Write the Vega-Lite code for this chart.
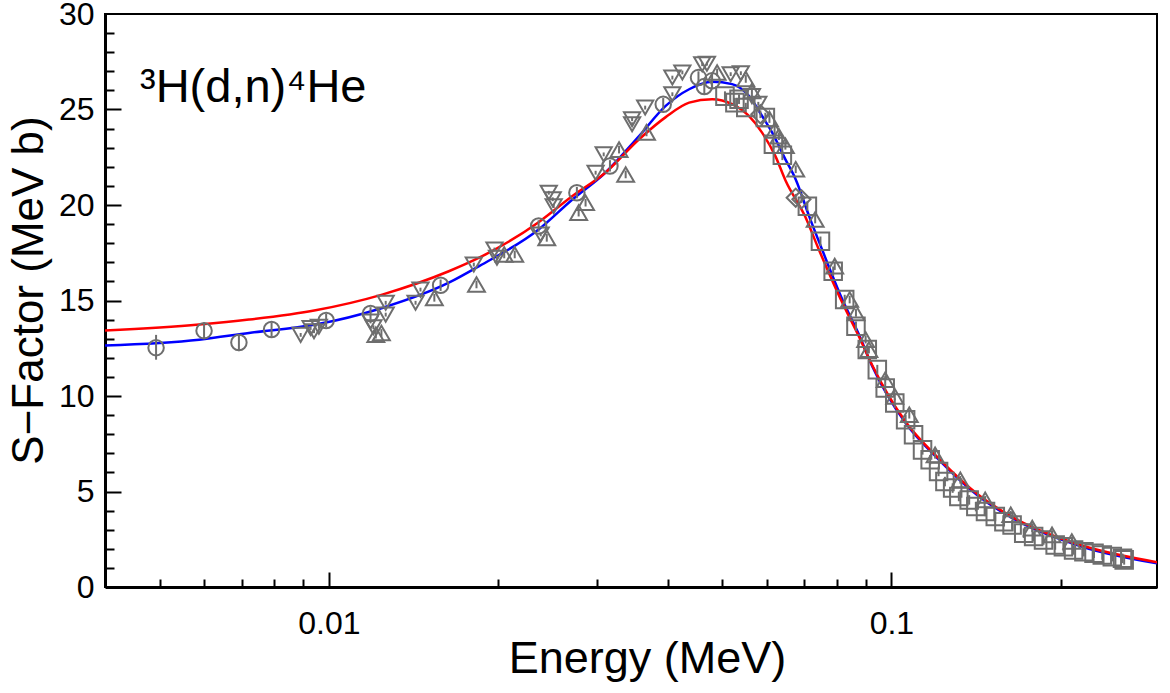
{
"$schema": "https://vega.github.io/schema/vega-lite/v6.json",
"width": 1052, "height": 573,
"autosize": {"type": "none"},
"padding": {"left": 105, "top": 14, "right": 13, "bottom": 106},
"background": "white",
"title": {"text": "³H(d,n)⁴He", "anchor": "start", "frame": "group", "orient": "top", "offset": -58, "dx": 35, "dy": 93, "baseline": "alphabetic", "fontSize": 47, "font": "Liberation Sans", "fontWeight": "normal", "color": "black"},
"datasets": {
"blue": [{"E":0.00398,"S":12.64},{"E":0.00588,"S":12.95},{"E":0.00721,"S":13.3},{"E":0.00947,"S":13.74},{"E":0.01244,"S":14.61},{"E":0.01634,"S":15.93},{"E":0.0185,"S":16.8},{"E":0.0236,"S":18.72},{"E":0.0271,"S":20.29},{"E":0.031,"S":21.69},{"E":0.0356,"S":23.61},{"E":0.0397,"S":25.19},{"E":0.0437,"S":26.06},{"E":0.048,"S":26.45},{"E":0.0521,"S":26.33},{"E":0.0558,"S":25.71},{"E":0.0589,"S":24.66},{"E":0.0614,"S":23.79},{"E":0.0648,"S":22.39},{"E":0.0676,"S":21.34},{"E":0.0714,"S":19.42},{"E":0.0753,"S":17.67},{"E":0.0818,"S":15.05},{"E":0.0876,"S":13.2},{"E":0.0925,"S":11.55},{"E":0.106,"S":8.58},{"E":0.1215,"S":6.66},{"E":0.1431,"S":4.74},{"E":0.1663,"S":3.51},{"E":0.2184,"S":2.11},{"E":0.2966,"S":1.24}],
"red": [{"E":0.00398,"S":13.42},{"E":0.00588,"S":13.74},{"E":0.00721,"S":14.0},{"E":0.00947,"S":14.49},{"E":0.01244,"S":15.31},{"E":0.01634,"S":16.53},{"E":0.0185,"S":17.24},{"E":0.0236,"S":19.1},{"E":0.0271,"S":20.47},{"E":0.031,"S":21.69},{"E":0.0356,"S":23.44},{"E":0.0397,"S":24.6},{"E":0.0437,"S":25.36},{"E":0.048,"S":25.54},{"E":0.0521,"S":25.28},{"E":0.0558,"S":24.66},{"E":0.0589,"S":23.79},{"E":0.0622,"S":22.56},{"E":0.0648,"S":21.3},{"E":0.0702,"S":19.42},{"E":0.0743,"S":17.67},{"E":0.0813,"S":15.05},{"E":0.0876,"S":13.1},{"E":0.0925,"S":11.6},{"E":0.106,"S":8.65},{"E":0.1215,"S":6.72},{"E":0.1431,"S":4.8},{"E":0.1663,"S":3.57},{"E":0.2184,"S":2.17},{"E":0.2966,"S":1.3}],
"pts": [
{"set":"c","E":0.00493,"S":12.53,"lo":11.9,"hi":13.2},
{"set":"c","E":0.006,"S":13.42,"lo":13.0,"hi":13.85},
{"set":"c","E":0.00692,"S":12.8,"lo":12.35,"hi":13.25},
{"set":"c","E":0.00791,"S":13.48,"lo":13.1,"hi":13.85},
{"set":"c","E":0.00989,"S":13.95,"lo":13.6,"hi":14.3},
{"set":"c","E":0.01186,"S":14.32,"lo":14.0,"hi":14.65},
{"set":"c","E":0.0158,"S":15.8,"lo":15.5,"hi":16.1},
{"set":"c","E":0.0236,"S":18.9,"lo":18.6,"hi":19.2},
{"set":"c","E":0.0276,"S":20.64,"lo":20.35,"hi":20.95},
{"set":"c","E":0.0316,"S":22.04,"lo":21.75,"hi":22.35},
{"set":"c","E":0.0393,"S":25.27,"lo":24.95,"hi":25.6},
{"set":"c","E":0.0454,"S":26.67,"lo":26.35,"hi":27.0},
{"set":"c","E":0.0465,"S":26.2,"lo":25.8,"hi":26.6},
{"set":"c","E":0.048,"S":26.5,"lo":26.1,"hi":26.9},
{"set":"d","E":0.00891,"S":13.2,"lo":13.1,"hi":13.3},
{"set":"d","E":0.00928,"S":13.56,"lo":13.46,"hi":13.66},
{"set":"d","E":0.00941,"S":13.39,"lo":13.29,"hi":13.49},
{"set":"d","E":0.0096,"S":13.62,"lo":13.52,"hi":13.72},
{"set":"d","E":0.01186,"S":13.9,"lo":13.8,"hi":14.0},
{"set":"d","E":0.012,"S":13.6,"lo":13.5,"hi":13.7},
{"set":"d","E":0.01262,"S":14.88,"lo":14.78,"hi":14.98},
{"set":"d","E":0.01262,"S":14.26,"lo":14.16,"hi":14.36},
{"set":"d","E":0.01426,"S":14.88,"lo":14.78,"hi":14.98},
{"set":"d","E":0.01455,"S":15.57,"lo":15.47,"hi":15.67},
{"set":"d","E":0.0181,"S":16.88,"lo":16.78,"hi":16.98},
{"set":"d","E":0.0197,"S":17.67,"lo":17.57,"hi":17.77},
{"set":"d","E":0.0199,"S":17.24,"lo":17.14,"hi":17.34},
{"set":"d","E":0.0238,"S":18.46,"lo":18.36,"hi":18.56},
{"set":"d","E":0.0246,"S":20.64,"lo":20.54,"hi":20.74},
{"set":"d","E":0.025,"S":20.3,"lo":20.2,"hi":20.4},
{"set":"d","E":0.0251,"S":19.94,"lo":19.84,"hi":20.04},
{"set":"d","E":0.0298,"S":21.69,"lo":21.59,"hi":21.79},
{"set":"d","E":0.0308,"S":22.65,"lo":22.55,"hi":22.75},
{"set":"d","E":0.0346,"S":24.49,"lo":24.39,"hi":24.59},
{"set":"d","E":0.0346,"S":24.23,"lo":24.13,"hi":24.33},
{"set":"d","E":0.0365,"S":25.1,"lo":25.0,"hi":25.2},
{"set":"d","E":0.0408,"S":25.8,"lo":25.7,"hi":25.9},
{"set":"d","E":0.0408,"S":26.67,"lo":26.57,"hi":26.77},
{"set":"d","E":0.0425,"S":26.94,"lo":26.84,"hi":27.04},
{"set":"d","E":0.0461,"S":27.37,"lo":27.27,"hi":27.47},
{"set":"d","E":0.047,"S":27.4,"lo":27.3,"hi":27.5},
{"set":"d","E":0.0518,"S":26.85,"lo":26.75,"hi":26.95},
{"set":"d","E":0.054,"S":26.9,"lo":26.8,"hi":27.0},
{"set":"d","E":0.0565,"S":25.7,"lo":25.6,"hi":25.8},
{"set":"d","E":0.058,"S":25.3,"lo":25.2,"hi":25.4},
{"set":"u","E":0.01212,"S":13.21,"lo":13.01,"hi":13.41},
{"set":"u","E":0.0124,"S":13.3,"lo":13.1,"hi":13.5},
{"set":"u","E":0.0154,"S":15.14,"lo":14.94,"hi":15.34},
{"set":"u","E":0.0183,"S":15.84,"lo":15.64,"hi":16.04},
{"set":"u","E":0.0205,"S":17.41,"lo":17.21,"hi":17.61},
{"set":"u","E":0.0214,"S":17.41,"lo":17.21,"hi":17.61},
{"set":"u","E":0.0244,"S":18.28,"lo":18.08,"hi":18.48},
{"set":"u","E":0.0278,"S":19.6,"lo":19.4,"hi":19.8},
{"set":"u","E":0.0286,"S":20.12,"lo":19.92,"hi":20.32},
{"set":"u","E":0.0328,"S":22.9,"lo":22.7,"hi":23.1},
{"set":"u","E":0.0337,"S":21.6,"lo":21.4,"hi":21.8},
{"set":"u","E":0.0367,"S":23.8,"lo":23.6,"hi":24.0},
{"set":"u","E":0.049,"S":26.94,"lo":26.74,"hi":27.14},
{"set":"u","E":0.0551,"S":26.6,"lo":26.4,"hi":26.8},
{"set":"u","E":0.0565,"S":25.97,"lo":25.77,"hi":26.17},
{"set":"u","E":0.0607,"S":24.5,"lo":24.3,"hi":24.7},
{"set":"u","E":0.062,"S":23.9,"lo":23.7,"hi":24.1},
{"set":"u","E":0.0631,"S":23.6,"lo":23.4,"hi":23.8},
{"set":"u","E":0.0648,"S":23.1,"lo":22.9,"hi":23.3},
{"set":"u","E":0.0676,"S":21.87,"lo":21.67,"hi":22.07},
{"set":"u","E":0.0732,"S":19.24,"lo":19.04,"hi":19.44},
{"set":"u","E":0.0793,"S":16.8,"lo":16.6,"hi":17.0},
{"set":"u","E":0.0843,"S":15.05,"lo":14.85,"hi":15.25},
{"set":"u","E":0.0865,"S":14.35,"lo":14.15,"hi":14.55},
{"set":"u","E":0.09,"S":12.95,"lo":12.75,"hi":13.15},
{"set":"u","E":0.0912,"S":12.43,"lo":12.23,"hi":12.63},
{"set":"u","E":0.0975,"S":10.85,"lo":10.65,"hi":11.05},
{"set":"u","E":0.1014,"S":9.98,"lo":9.78,"hi":10.18},
{"set":"u","E":0.1076,"S":9.02,"lo":8.82,"hi":9.22},
{"set":"u","E":0.1196,"S":6.92,"lo":6.72,"hi":7.12},
{"set":"u","E":0.1326,"S":5.61,"lo":5.41,"hi":5.81},
{"set":"u","E":0.1468,"S":4.56,"lo":4.36,"hi":4.76},
{"set":"u","E":0.163,"S":3.78,"lo":3.58,"hi":3.98},
{"set":"u","E":0.178,"S":3.08,"lo":2.88,"hi":3.28},
{"set":"u","E":0.193,"S":2.73,"lo":2.53,"hi":2.93},
{"set":"u","E":0.2093,"S":2.38,"lo":2.18,"hi":2.58},
{"set":"s","E":0.0506,"S":25.7,"lo":25.45,"hi":25.95},
{"set":"s","E":0.0527,"S":25.36,"lo":25.11,"hi":25.61},
{"set":"s","E":0.0536,"S":25.54,"lo":25.29,"hi":25.79},
{"set":"s","E":0.0551,"S":25.1,"lo":24.85,"hi":25.35},
{"set":"s","E":0.0597,"S":24.58,"lo":24.33,"hi":24.83},
{"set":"s","E":0.0617,"S":23.18,"lo":22.93,"hi":23.43},
{"set":"s","E":0.064,"S":22.6,"lo":22.35,"hi":22.85},
{"set":"s","E":0.0709,"S":19.94,"lo":19.69,"hi":20.19},
{"set":"s","E":0.0748,"S":18.1,"lo":17.85,"hi":18.35},
{"set":"s","E":0.0788,"S":16.53,"lo":16.28,"hi":16.78},
{"set":"s","E":0.0826,"S":15.05,"lo":14.8,"hi":15.3},
{"set":"s","E":0.0865,"S":13.65,"lo":13.4,"hi":13.9},
{"set":"s","E":0.0906,"S":12.43,"lo":12.18,"hi":12.68},
{"set":"s","E":0.0944,"S":11.38,"lo":11.13,"hi":11.63},
{"set":"s","E":0.0975,"S":10.42,"lo":10.17,"hi":10.67},
{"set":"s","E":0.1014,"S":9.63,"lo":9.38,"hi":9.88},
{"set":"s","E":0.106,"S":8.76,"lo":8.51,"hi":9.01},
{"set":"s","E":0.1095,"S":7.97,"lo":7.72,"hi":8.22},
{"set":"s","E":0.1136,"S":7.18,"lo":6.93,"hi":7.43},
{"set":"s","E":0.1172,"S":6.66,"lo":6.41,"hi":6.91},
{"set":"s","E":0.1213,"S":6.05,"lo":5.8,"hi":6.3},
{"set":"s","E":0.1245,"S":5.52,"lo":5.27,"hi":5.77},
{"set":"s","E":0.1285,"S":5.18,"lo":4.93,"hi":5.43},
{"set":"s","E":0.1318,"S":4.74,"lo":4.49,"hi":4.99},
{"set":"s","E":0.1375,"S":4.56,"lo":4.31,"hi":4.81},
{"set":"s","E":0.1413,"S":4.21,"lo":3.96,"hi":4.46},
{"set":"s","E":0.147,"S":3.95,"lo":3.7,"hi":4.2},
{"set":"s","E":0.153,"S":3.69,"lo":3.44,"hi":3.94},
{"set":"s","E":0.1585,"S":3.42,"lo":3.17,"hi":3.67},
{"set":"s","E":0.1639,"S":3.25,"lo":3.0,"hi":3.5},
{"set":"s","E":0.1719,"S":2.82,"lo":2.57,"hi":3.07},
{"set":"s","E":0.179,"S":2.64,"lo":2.39,"hi":2.89},
{"set":"s","E":0.1864,"S":2.46,"lo":2.21,"hi":2.71},
{"set":"s","E":0.1955,"S":2.2,"lo":1.95,"hi":2.45},
{"set":"s","E":0.2022,"S":2.11,"lo":1.86,"hi":2.36},
{"set":"s","E":0.2108,"S":1.94,"lo":1.69,"hi":2.19},
{"set":"s","E":0.2199,"S":1.85,"lo":1.6,"hi":2.1},
{"set":"s","E":0.2292,"S":1.77,"lo":1.52,"hi":2.02},
{"set":"s","E":0.2371,"S":1.68,"lo":1.43,"hi":1.93},
{"set":"s","E":0.247,"S":1.59,"lo":1.34,"hi":1.84},
{"set":"s","E":0.2575,"S":1.5,"lo":1.25,"hi":1.75},
{"set":"s","E":0.2593,"S":1.42,"lo":1.17,"hi":1.67},
{"set":"m","E":0.0585,"S":24.75,"lo":24.55,"hi":24.95},
{"set":"m","E":0.0676,"S":20.38,"lo":20.18,"hi":20.58},
{"set":"m","E":0.0692,"S":20.3,"lo":20.1,"hi":20.5}
]
},
"layer": [
{
"data": {"name": "blue"},
"mark": {"type": "line", "color": "#0000ff", "strokeWidth": 2.5, "interpolate": "monotone", "clip": true},
"encoding": {
"x": {"field": "E", "type": "quantitative", "scale": {"type": "log", "domain": [0.004, 0.2966], "nice": false},
"axis": {"orient": "bottom", "values": [0.01, 0.1], "format": "~g", "ticks": false, "labelPadding": 21, "title": "Energy (MeV)", "titlePadding": -3, "titleFontSize": 45, "titleX": 542}},
"y": {"field": "S", "type": "quantitative", "scale": {"domain": [0, 30], "nice": false, "zero": true},
"axis": {"orient": "left", "values": [0, 5, 10, 15, 20, 25, 30], "ticks": false, "labelPadding": 11, "title": "S−Factor (MeV b)", "titlePadding": 7, "titleFontSize": 44, "titleY": 276}}
}
},
{
"data": {"name": "red"},
"mark": {"type": "line", "color": "#ff0000", "strokeWidth": 2.5, "interpolate": "monotone", "clip": true},
"encoding": {
"x": {"field": "E", "type": "quantitative", "scale": {"type": "log", "domain": [0.004, 0.2966], "nice": false},
"axis": {"orient": "bottom", "values": [0.01, 0.1], "tickSize": -15, "labels": false, "domain": false, "title": null}},
"y": {"field": "S", "type": "quantitative", "scale": {"domain": [0, 30], "nice": false, "zero": true},
"axis": {"orient": "left", "values": [5, 10, 15, 20, 25], "tickSize": -16, "labels": false, "domain": false, "title": null}}
}
},
{
"data": {"name": "pts"},
"mark": {"type": "rule", "color": "#6e6e6e", "strokeWidth": 2},
"encoding": {
"x": {"field": "E", "type": "quantitative", "scale": {"type": "log", "domain": [0.004, 0.2966], "nice": false}, "axis": null},
"y": {"field": "lo", "type": "quantitative", "scale": {"domain": [0, 30], "nice": false, "zero": true}, "axis": null},
"y2": {"field": "hi"}
}
},
{
"data": {"name": "pts"},
"mark": {"type": "point", "filled": false, "strokeWidth": 2, "color": "#6e6e6e", "opacity": 1},
"encoding": {
"x": {"field": "E", "type": "quantitative", "scale": {"type": "log", "domain": [0.004, 0.2966], "nice": false},
"axis": {"orient": "bottom", "values": [0.005, 0.006, 0.007, 0.008, 0.009, 0.02, 0.03, 0.04, 0.05, 0.06, 0.07, 0.08, 0.09, 0.2], "tickSize": -8, "labels": false, "domain": false, "title": null}},
"y": {"field": "S", "type": "quantitative", "scale": {"domain": [0, 30], "nice": false, "zero": true},
"axis": {"orient": "left", "values": [1, 2, 3, 4, 6, 7, 8, 9, 11, 12, 13, 14, 16, 17, 18, 19, 21, 22, 23, 24, 26, 27, 28, 29], "tickSize": -9, "labels": false, "domain": false, "title": null}},
"shape": {"field": "set", "type": "nominal", "scale": {"domain": ["c", "d", "u", "s", "m"], "range": ["circle", "triangle-down", "triangle-up", "square", "diamond"]}, "legend": null},
"size": {"field": "set", "type": "nominal", "scale": {"domain": ["c", "d", "u", "s", "m"], "range": [240, 330, 330, 170, 250]}, "legend": null}
}
}
],
"resolve": {"axis": {"x": "independent", "y": "independent"}},
"config": {
"view": {"stroke": "black", "strokeWidth": 2},
"font": "Liberation Sans",
"axis": {"grid": false, "labelFont": "Liberation Sans", "titleFont": "Liberation Sans", "labelFontSize": 32, "titleFontSize": 44, "titleFontWeight": "normal", "labelColor": "black", "titleColor": "black", "domainColor": "black", "tickColor": "black", "domainWidth": 3, "tickWidth": 2}
}
}
